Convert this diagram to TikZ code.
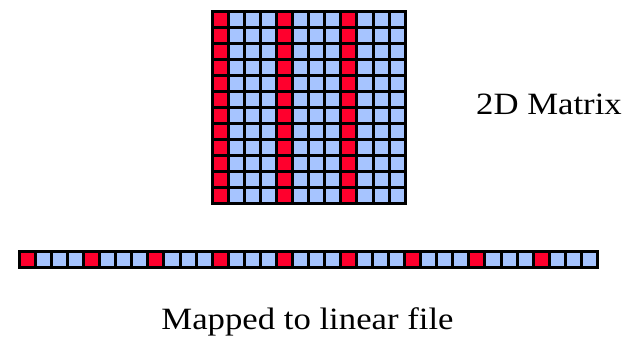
\documentclass[tikz,border=0pt]{standalone}
\usepackage{fontspec}
\usepackage{graphicx}
\setmainfont{Liberation Serif}
\definecolor{cellred}{RGB}{255,0,45}
\definecolor{cellblue}{RGB}{166,196,255}
\tikzset{
  cell/.style={draw=black, line width=3pt},
  lbl/.style={inner sep=0pt, anchor=base, font=\fontsize{31}{36}\selectfont}
}
\begin{document}
\begin{tikzpicture}[x=1pt,y=-1pt]
\useasboundingbox (0,0) rectangle (629,338);
% 2D matrix 12x12
\def\mx{212.5}\def\my{11}\def\mc{16.05}
\foreach \r in {0,...,11}{
  \foreach \c in {0,...,11}{
    \pgfmathtruncatemacro{\m}{mod(\c,4)}
    \ifnum\m=0 \def\fc{cellred}\else\def\fc{cellblue}\fi
    \filldraw[cell, fill=\fc] ({\mx+\c*\mc},{\my+\r*\mc}) rectangle ++(\mc,\mc);
  }
}
% linear strip 36 cells
\def\sx{19.5}\def\sy{251}\def\sc{16.05}
\foreach \c in {0,...,35}{
  \pgfmathtruncatemacro{\m}{mod(\c,4)}
  \ifnum\m=0 \def\fc{cellred}\else\def\fc{cellblue}\fi
  \filldraw[cell, fill=\fc] ({\sx+\c*\sc},\sy) rectangle ++(\sc,16.5);
}
\node[lbl] (matrixlabel) at (549,114) {\scalebox{1.12}[1]{2D Matrix}};
\node[lbl] (linearlabel) at (307.5,329) {\scalebox{1.12}[1]{Mapped to linear file}};
\end{tikzpicture}
\end{document}
